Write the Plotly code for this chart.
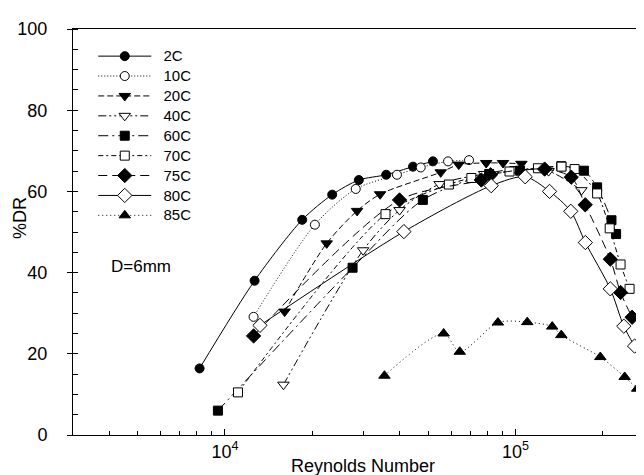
import plotly.graph_objects as go

# ---- data ----
re_2c = [8180, 12650, 18450, 23400, 28900, 35900, 44400, 52000]
dr_2c = [16.4, 38.0, 53.0, 59.2, 62.8, 64.1, 66.1, 67.4]

re_10c = [12550, 20400, 28200, 39100, 47200, 58600, 69200]
dr_10c = [29.1, 51.8, 60.6, 64.1, 65.9, 67.4, 67.7]

re_20c = [16050, 22400, 28500, 34200, 55300, 63800, 79300, 90600, 104800]
dr_20c = [30.4, 47.2, 55.2, 59.3, 64.7, 66.6, 67.0, 67.0, 66.8]

re_40c = [15900, 29900, 39900, 54800, 78000, 100000, 130000, 168600]
dr_40c = [12.4, 45.5, 55.4, 61.8, 64.3, 65.5, 65.0, 60.3]

re_60c = [9460, 27500, 48000, 81200, 103700, 143800, 172000, 191000, 214000, 222000]
dr_60c = [6.0, 41.2, 57.9, 64.3, 65.1, 66.2, 65.1, 61.0, 52.9, 49.5]

re_70c = [11090, 35700, 59000, 70500, 95400, 119500, 144000, 159800, 191000, 211000, 230000, 247000]
dr_70c = [10.5, 54.4, 61.7, 63.3, 64.9, 65.7, 66.1, 65.5, 59.5, 50.9, 42.0, 36.0]

re_75c = [12550, 39900, 76300, 82100, 126000, 155600, 173800, 212000, 230000, 252000]
dr_75c = [24.4, 57.9, 62.8, 64.1, 65.5, 63.5, 56.7, 43.3, 35.1, 29.0]

re_80c = [13200, 41300, 82500, 108000, 131000, 155000, 174000, 212000, 236000, 257000]
dr_80c = [27.0, 50.1, 61.4, 63.6, 60.0, 55.1, 47.4, 36.0, 26.8, 21.9]

re_85c = [35400, 56600, 64300, 87000, 109800, 133800, 143800, 195900, 237600, 262400]
dr_85c = [14.6, 25.0, 20.5, 27.7, 27.8, 26.7, 24.6, 19.2, 14.3, 11.4]

series_names = ["2C", "10C", "20C", "40C", "60C", "70C", "75C", "80C", "85C"]
x_tick_vals = [1e4, 1e5]
x_tick_text = ["10<sup>4</sup>", "10<sup>5</sup>"]
x_minor_vals = [4000, 5000, 6000, 7000, 8000, 9000,
                20000, 30000, 40000, 50000, 60000, 70000, 80000, 90000,
                200000, 300000]

# ---- styles ----
styles = {
    "2C":  dict(symbol="circle", fill="black", dash="solid", size=9),
    "10C": dict(symbol="circle", fill="white", dash="1px,2px", size=9),
    "20C": dict(symbol="triangle-down", fill="black", dash="6px,3px", size=10),
    "40C": dict(symbol="triangle-down", fill="white", dash="8px,3px,2px,3px,2px,3px", size=10),
    "60C": dict(symbol="square", fill="black", dash="10px,4px,2px,4px", size=9),
    "70C": dict(symbol="square", fill="white", dash="5px,3px,2px,3px", size=9),
    "75C": dict(symbol="diamond", fill="black", dash="9px,5px", size=11),
    "80C": dict(symbol="diamond", fill="white", dash="solid", size=11),
    "85C": dict(symbol="triangle-up", fill="black", dash="1px,3px", size=10),
}

data = [
    (re_2c, dr_2c), (re_10c, dr_10c), (re_20c, dr_20c), (re_40c, dr_40c),
    (re_60c, dr_60c), (re_70c, dr_70c), (re_75c, dr_75c), (re_80c, dr_80c),
    (re_85c, dr_85c),
]

FONT = "Liberation Sans, Arial, sans-serif"

fig = go.Figure()
for name, (xs, ys) in zip(series_names, data):
    st = styles[name]
    fig.add_trace(go.Scatter(
        x=xs, y=ys, mode="lines+markers",
        name="\u00a0\u00a0<span style='font-size:15px'>" + name + "</span>",
        line=dict(color="black", width=1, dash=st["dash"], shape="spline", smoothing=0.8),
        marker=dict(symbol=st["symbol"], size=st["size"], color=st["fill"],
                    line=dict(color="black", width=1)),
    ))

fig.update_layout(
    width=644, height=475,
    margin=dict(l=65, r=0, t=21, b=48),
    paper_bgcolor="white", plot_bgcolor="white",
    font=dict(family=FONT, color="black", size=18),
    showlegend=True,
    legend=dict(
        x=0.035, y=0.97, xanchor="left", yanchor="top",
        bgcolor="rgba(0,0,0,0)", borderwidth=0,
        font=dict(size=13, family=FONT, color="black"),
        tracegroupgap=0, itemwidth=53,
    ),
)

fig.update_xaxes(
    type="log", range=[3.4771, 5.4699],
    showline=True, linecolor="black", linewidth=1, mirror=True,
    showgrid=False, zeroline=False,
    tickmode="array", tickvals=x_tick_vals, ticktext=x_tick_text,
    ticks="inside", ticklen=6, tickcolor="black", tickwidth=1,
    tickfont=dict(size=18, family=FONT),
    ticklabelstandoff=0,
    minor=dict(tickmode="array", tickvals=x_minor_vals, ticks="inside",
               ticklen=4, tickcolor="black", tickwidth=1, showgrid=False),
)

fig.update_yaxes(
    range=[0, 100], dtick=20, tick0=0,
    showline=True, linecolor="black", linewidth=1, mirror=False,
    showgrid=False, zeroline=False,
    ticks="outside", ticklen=5, tickcolor="black", tickwidth=1,
    tickfont=dict(size=18, family=FONT),
    ticklabelstandoff=16,
    minor=dict(dtick=5, ticks="inside", ticklen=5, tickcolor="black",
               tickwidth=1, showgrid=False),
)

fig.add_annotation(text="Reynolds Number", xref="paper", yref="paper",
                   x=0.5, y=-0.106, xanchor="center", yanchor="bottom",
                   showarrow=False, font=dict(size=18, family=FONT))
fig.add_annotation(text="%DR", xref="paper", yref="paper",
                   x=-0.072, y=0.535, xanchor="right", yanchor="middle", textangle=-90,
                   showarrow=False, font=dict(size=18, family=FONT))
fig.add_annotation(text="D=6mm", xref="paper", yref="paper",
                   x=0.062, y=0.416, xanchor="left", yanchor="middle",
                   showarrow=False, font=dict(size=17, family=FONT))

fig.write_html("out.html")
